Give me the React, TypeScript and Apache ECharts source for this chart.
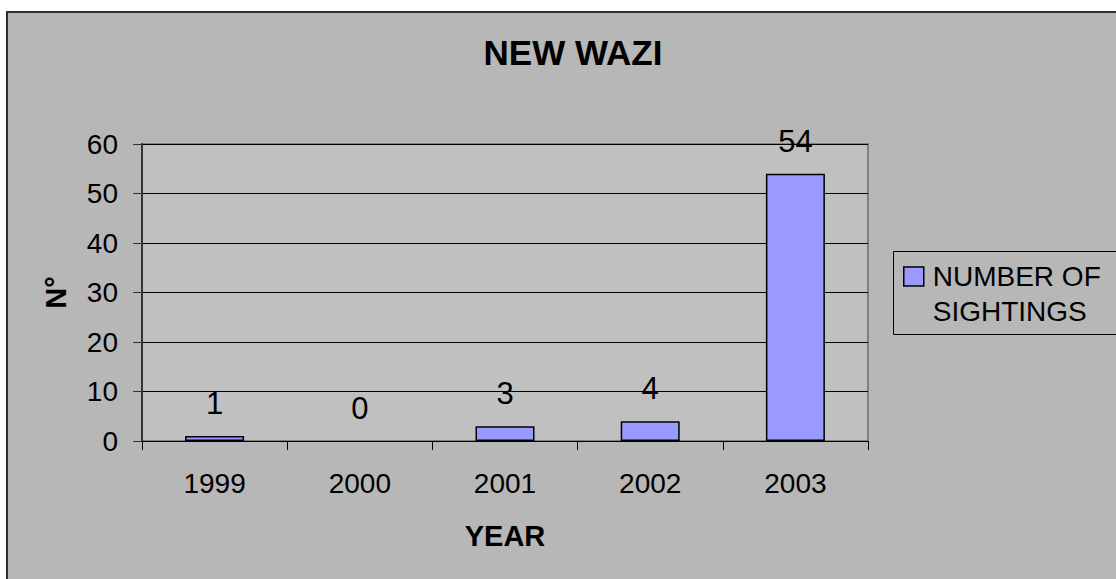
import React, { useEffect, useRef } from "react";
import * as echarts from "echarts";

const years = ["1999", "2000", "2001", "2002", "2003"];
const sightings = [1, 0, 3, 4, 54];
const seriesName = "NUMBER OF\nSIGHTINGS";
const chartTitle = "NEW WAZI";
const xName = "YEAR";
const yName = "N°";

const FONT = "'Liberation Sans', Arial, sans-serif";

export default function App() {
  const ref = useRef<HTMLDivElement>(null);

  useEffect(() => {
    if (!ref.current) return;
    const chart = echarts.init(ref.current, null, { renderer: "svg" });
    chart.setOption({
      animation: false,
      backgroundColor: "#ffffff",
      textStyle: { fontFamily: FONT },
      graphic: [
        {
          type: "rect",
          z: -10,
          silent: true,
          shape: { x: 7, y: 12, width: 1130, height: 590 },
          style: { fill: "#b7b7b7", stroke: "#2e2e2e", lineWidth: 2 },
        },
        {
          type: "rect",
          z: -5,
          silent: true,
          shape: { x: 893.5, y: 251.5, width: 240, height: 83 },
          style: { fill: "#b7b7b7", stroke: "#000000", lineWidth: 1 },
        },
      ],
      title: {
        text: chartTitle,
        left: 568,
        top: 30,
        textAlign: "center",
        textStyle: { fontFamily: FONT, fontSize: 35, fontWeight: "bold", color: "#000" },
      },
      legend: {
        left: 903,
        top: 224,
        padding: 0,
        itemWidth: 20,
        itemHeight: 19,
        icon: "rect",
        selectedMode: false,
        itemStyle: { borderColor: "#000", borderWidth: 1.5 },
        // leading blank line keeps the first line level with the swatch
        formatter: (name: string) => "\n" + name,
        textStyle: {
          fontFamily: FONT,
          fontSize: 28,
          lineHeight: 35,
          color: "#000",
          padding: [0, 0, 0, 4],
        },
        data: [seriesName],
      },
      grid: {
        left: 142,
        right: 248,
        top: 144,
        bottom: 138,
        show: true,
        backgroundColor: "#c0c0c0",
        borderColor: "#808080",
        borderWidth: 2,
      },
      xAxis: {
        type: "category",
        data: years,
        name: xName,
        nameLocation: "middle",
        nameGap: 80,
        nameTextStyle: { fontFamily: FONT, fontSize: 29, fontWeight: "bold", color: "#000" },
        axisLine: { lineStyle: { color: "#000", width: 1 } },
        axisTick: { show: true, length: 9, alignWithLabel: false, lineStyle: { color: "#000" } },
        axisLabel: { fontFamily: FONT, fontSize: 28, color: "#000", margin: 28 },
      },
      yAxis: {
        type: "value",
        min: 0,
        max: 60,
        interval: 10,
        name: yName,
        nameLocation: "middle",
        nameGap: 72,
        nameTextStyle: { fontFamily: FONT, fontSize: 29, fontWeight: "bold", color: "#000" },
        axisLine: { show: true, lineStyle: { color: "#333", width: 2 } },
        axisTick: { show: true, length: 9, lineStyle: { color: "#333" } },
        axisLabel: { fontFamily: FONT, fontSize: 28, color: "#000", margin: 24 },
        splitLine: { show: true, lineStyle: { color: "#000", width: 1 } },
      },
      series: [
        {
          type: "bar",
          name: seriesName,
          data: sightings.map((v) => ({
            value: v,
            itemStyle: v === 0 ? { borderWidth: 0 } : undefined,
          })),
          barWidth: 59,
          itemStyle: { color: "#9999ff", borderColor: "#000", borderWidth: 1.5 },
          label: {
            show: true,
            position: "top",
            distance: 17,
            fontFamily: FONT,
            fontSize: 31,
            color: "#000",
          },
        },
      ],
    });
    return () => chart.dispose();
  }, []);

  return (
    <div style={{ position: "absolute", left: 0, top: 0, width: 1116, height: 579 }}>
      <div ref={ref} style={{ width: 1116, height: 579 }} />
    </div>
  );
}
